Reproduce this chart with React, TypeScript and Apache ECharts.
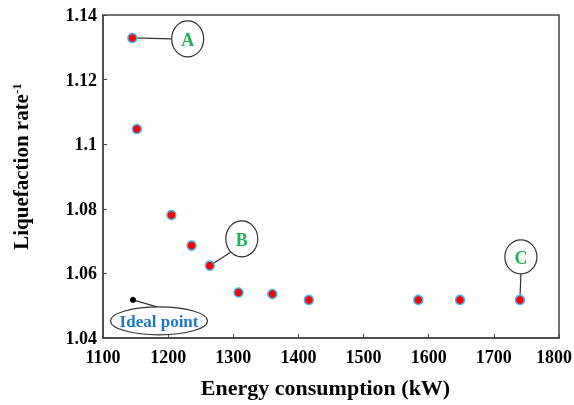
import React, { useEffect, useRef } from "react";
import * as echarts from "echarts";

const energy = [1145, 1152, 1205, 1236, 1264, 1308, 1360, 1416, 1584, 1648, 1740];
const rate = [1.1329, 1.1047, 1.0781, 1.0686, 1.0624, 1.0541, 1.0536, 1.0518, 1.0518, 1.0518, 1.0518];
const idealPoint = [1146, 1.0518];
const xTicks = { min: 1100, max: 1800, interval: 100 };
const yTicks = { min: 1.04, max: 1.14, interval: 0.02 };
const annotationLabels = ["A", "B", "C", "Ideal point"];
const annotationCenters = [
  [1230, 1.1326],
  [1313, 1.0707],
  [1741.5, 1.0651],
  [1186, 1.0453],
];
const annotationTargets = [0, 4, 10, -1];

const serif = "Liberation Serif";

export default function App() {
  const ref = useRef<HTMLDivElement>(null);
  useEffect(() => {
    if (!ref.current) return;
    const chart = echarts.init(ref.current, undefined, { renderer: "svg" });
    const labelFont = { fontFamily: serif, fontWeight: "bold", fontSize: 18, color: "#000" };
    chart.setOption({
      animation: false,
      textStyle: { fontFamily: serif },
      grid: {
        left: 103,
        top: 15,
        right: 15,
        bottom: 67,
        show: true,
        borderColor: "#444",
        borderWidth: 1.5,
        outerBoundsMode: "none",
        containLabel: false,
      },
      xAxis: {
        type: "value",
        min: xTicks.min,
        max: xTicks.max,
        interval: xTicks.interval,
        name: "Energy consumption (kW)",
        nameLocation: "middle",
        nameGap: 38,
        nameTextStyle: {
          fontFamily: serif,
          fontWeight: "bold",
          fontSize: 22,
          color: "#000",
          padding: [0, 11, 0, 0],
        },
        axisLine: { lineStyle: { color: "#444", width: 1.5 } },
        axisTick: { inside: true, length: 4, lineStyle: { color: "#444" } },
        axisLabel: {
          ...labelFont,
          margin: 10,
          formatter: (v: number) => (v === xTicks.max ? `{r|${v}}` : `{n|${v}}`),
          rich: {
            n: { ...labelFont },
            r: { ...labelFont, padding: [0, 10, 0, 0] },
          },
        },
        splitLine: { show: false },
      },
      yAxis: {
        type: "value",
        min: yTicks.min,
        max: yTicks.max,
        interval: yTicks.interval,
        name: "{a|Liquefaction rate}{s|-1}",
        nameLocation: "middle",
        nameGap: 71,
        nameRotate: 90,
        nameTextStyle: {
          padding: [0, 0, 0, 20],
          rich: {
            a: { fontFamily: serif, fontWeight: "bold", fontSize: 21, color: "#000" },
            s: { fontFamily: serif, fontWeight: "bold", fontSize: 13, color: "#000", padding: [0, 0, 9, 0] },
          },
        },
        axisLine: { lineStyle: { color: "#444", width: 1.5 } },
        axisTick: { inside: true, length: 4, lineStyle: { color: "#444" } },
        axisLabel: { ...labelFont, margin: 6 },
        splitLine: { show: false },
      },
      series: [
        {
          type: "scatter",
          data: energy.map((e, i) => [e, rate[i]]),
          symbolSize: 9,
          itemStyle: { color: "#ff0000", borderColor: "#3fb6ee", borderWidth: 1.5, opacity: 1 },
          z: 5,
        },
        {
          type: "scatter",
          data: [idealPoint],
          symbolSize: 6,
          itemStyle: { color: "#000", opacity: 1 },
          z: 5,
        },
      ],
    });

    const ends = [
      [-16, 0],
      [-10.5, 13],
      [0, 17],
      [-2, -14],
    ];
    const radii = [
      [16, 18],
      [16, 18],
      [16, 17],
      [48.5, 14],
    ];
    const graphics: any[] = [];
    annotationLabels.forEach((label, k) => {
      const c = chart.convertToPixel({ gridIndex: 0 }, annotationCenters[k]) as number[];
      const t = annotationTargets[k];
      const p = chart.convertToPixel(
        { gridIndex: 0 },
        t >= 0 ? [energy[t], rate[t]] : idealPoint
      ) as number[];
      graphics.push({
        type: "line",
        shape: { x1: p[0], y1: p[1], x2: c[0] + ends[k][0], y2: c[1] + ends[k][1] },
        style: { stroke: "#333", lineWidth: 1.2 },
        z: 1,
      });
      graphics.push({
        type: "ellipse",
        shape: { cx: c[0], cy: c[1], rx: radii[k][0], ry: radii[k][1] },
        style: { fill: "#fff", stroke: "#333", lineWidth: 1.2 },
        z: 2,
      });
      const isIdeal = t < 0;
      graphics.push({
        type: "text",
        x: c[0],
        y: c[1] + 1,
        style: {
          text: label,
          fill: isIdeal ? "#1e78c8" : "#1db356",
          fontFamily: serif,
          fontWeight: "bold",
          fontSize: isIdeal ? 17 : 18,
          align: "center",
          verticalAlign: "middle",
        },
        z: 3,
      });
    });
    chart.setOption({ graphic: graphics });

    return () => chart.dispose();
  }, []);
  return <div ref={ref} style={{ position: "fixed", left: 0, top: 0, width: 574, height: 405 }} />;
}
